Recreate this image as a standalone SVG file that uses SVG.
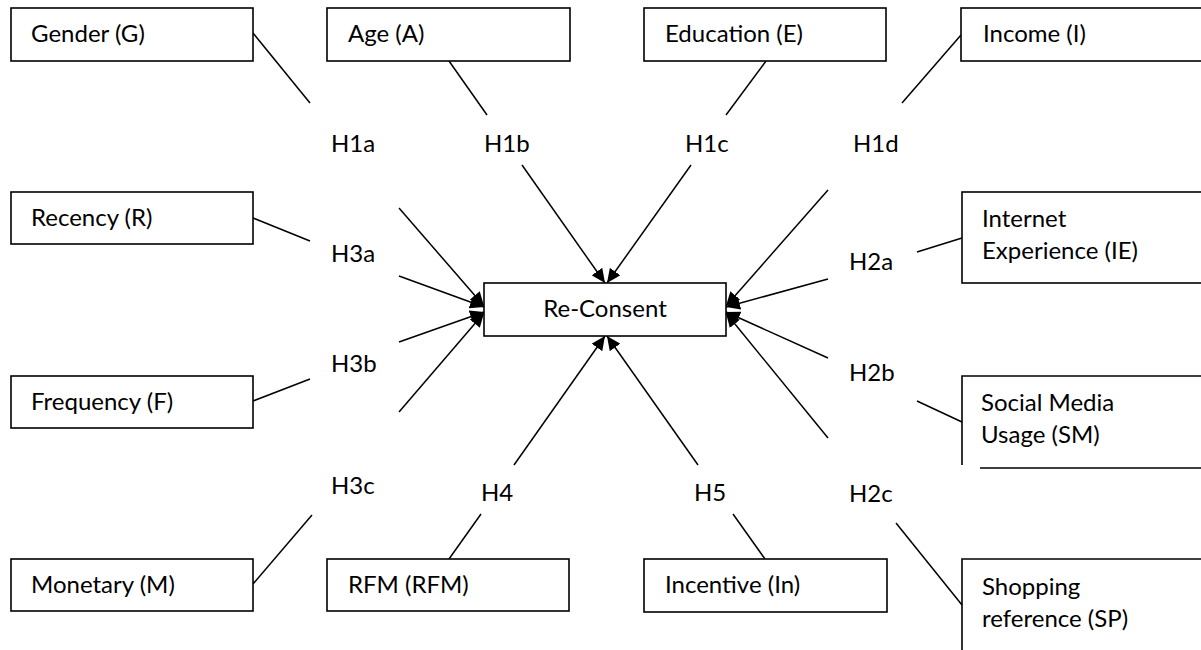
<svg xmlns="http://www.w3.org/2000/svg" width="1201" height="650" viewBox="0 0 1201 650">
<defs>
<style>
.box{fill:#fff;stroke:#000;stroke-width:1.6}
.edge{fill:none;stroke:#000;stroke-width:1.6}
.ln{fill:none;stroke:#000;stroke-width:1.5}
text{font-family:Lato,"Liberation Sans",sans-serif;font-size:24px;fill:#000}
.c{text-anchor:middle}
</style>
<marker id="ah" markerUnits="userSpaceOnUse" markerWidth="15" markerHeight="13" refX="14" refY="6.5" orient="auto">
<path d="M0,0 L14,6.5 L0,13 z" fill="#000"/>
</marker>
</defs>
<rect width="1201" height="650" fill="#fff"/>

<g id="connectors">
<line class="ln" x1="253" y1="33" x2="310" y2="103"/>
<line class="ln" x1="449" y1="61" x2="487" y2="115"/>
<line class="ln" x1="766" y1="61" x2="726" y2="115"/>
<line class="ln" x1="961" y1="35" x2="902" y2="103"/>
<line class="ln" x1="253" y1="218" x2="310" y2="241"/>
<line class="ln" x1="253" y1="401" x2="310" y2="379"/>
<line class="ln" x1="253" y1="584" x2="312" y2="515"/>
<line class="ln" x1="481" y1="514" x2="449" y2="559"/>
<line class="ln" x1="733" y1="514" x2="765" y2="559"/>
<line class="ln" x1="917" y1="252" x2="962" y2="238"/>
<line class="ln" x1="917" y1="401" x2="962" y2="422"/>
<line class="ln" x1="896" y1="523" x2="962" y2="605"/>

<line class="ln" x1="522" y1="165" x2="605" y2="283" marker-end="url(#ah)"/>
<line class="ln" x1="691" y1="165" x2="607" y2="283" marker-end="url(#ah)"/>
<line class="ln" x1="514" y1="465" x2="605" y2="336" marker-end="url(#ah)"/>
<line class="ln" x1="698" y1="465" x2="607" y2="336" marker-end="url(#ah)"/>
<line class="ln" x1="399" y1="208" x2="484" y2="306" marker-end="url(#ah)"/>
<line class="ln" x1="399" y1="276" x2="484" y2="307" marker-end="url(#ah)"/>
<line class="ln" x1="399" y1="342" x2="484" y2="312" marker-end="url(#ah)"/>
<line class="ln" x1="399" y1="412" x2="484" y2="313" marker-end="url(#ah)"/>
<line class="ln" x1="828" y1="190" x2="726" y2="306" marker-end="url(#ah)"/>
<line class="ln" x1="828" y1="279" x2="726" y2="307" marker-end="url(#ah)"/>
<line class="ln" x1="828" y1="358" x2="726" y2="312" marker-end="url(#ah)"/>
<line class="ln" x1="828" y1="438" x2="726" y2="313" marker-end="url(#ah)"/>
</g>

<g id="labels">
<text x="331" y="152">H1a</text>
<text x="484" y="152">H1b</text>
<text x="685" y="152">H1c</text>
<text x="853" y="152">H1d</text>
<text x="331" y="262">H3a</text>
<text x="331" y="372">H3b</text>
<text x="331" y="494">H3c</text>
<text x="481" y="501">H4</text>
<text x="694" y="501">H5</text>
<text x="849" y="270">H2a</text>
<text x="849" y="381">H2b</text>
<text x="849" y="502">H2c</text>
</g>

<g id="gender"><rect class="box" x="11" y="8" width="242" height="53"/><text x="31" y="42">Gender (G)</text></g>
<g id="age"><rect class="box" x="327" y="8" width="243" height="53"/><text x="348" y="42">Age (A)</text></g>
<g id="education"><rect class="box" x="644" y="8" width="242" height="53"/><text x="665" y="42">Education (E)</text></g>
<g id="income"><rect class="box" x="961" y="8" width="260" height="53"/><text x="983" y="42">Income (I)</text></g>
<g id="recency"><rect class="box" x="11" y="192" width="242" height="52"/><text x="31" y="226">Recency (R)</text></g>
<g id="frequency"><rect class="box" x="11" y="376" width="242" height="52"/><text x="31" y="410">Frequency (F)</text></g>
<g id="monetary"><rect class="box" x="11" y="559" width="242" height="52"/><text x="31" y="593">Monetary (M)</text></g>
<g id="rfm"><rect class="box" x="327" y="559" width="242" height="52"/><text x="348" y="593">RFM (RFM)</text></g>
<g id="incentive"><rect class="box" x="644" y="559" width="243" height="53"/><text x="665" y="593">Incentive (In)</text></g>
<g id="reconsent"><rect class="box" x="484" y="283" width="242" height="53"/><text class="c" x="605" y="317">Re-Consent</text></g>
<g id="internet"><rect class="box" x="962" y="192" width="260" height="91"/><text x="982" y="227">Internet</text><text x="982" y="259">Experience (IE)</text></g>
<g id="social"><path class="edge" d="M1220,376 H962 V465 M980,468 H1220"/><text x="981" y="411">Social Media</text><text x="981" y="443">Usage (SM)</text></g>
<g id="shopping"><path class="edge" d="M1220,559 H962 V660"/><text x="982" y="595">Shopping</text><text x="982" y="627">reference (SP)</text></g>
</svg>
